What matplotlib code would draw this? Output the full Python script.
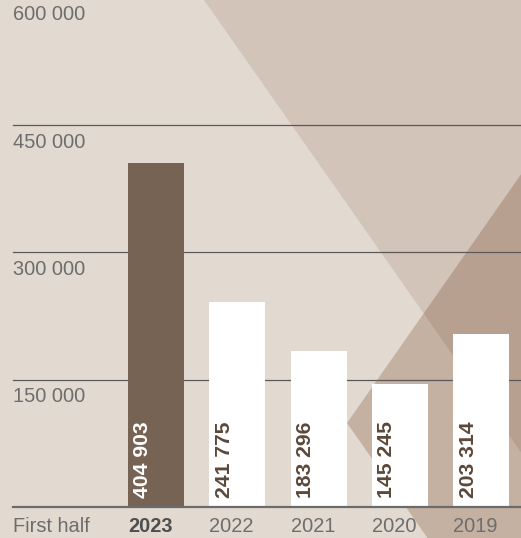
import numpy as np
import matplotlib
matplotlib.use('Agg')
import matplotlib.pyplot as plt
from matplotlib.patches import Polygon

plt.rcParams['font.family'] = ['Liberation Sans', 'DejaVu Sans']

years = ['2023', '2022', '2021', '2020', '2019']
values = [404903, 241775, 183296, 145245, 203314]
value_labels = ['404 903', '241 775', '183 296', '145 245', '203 314']
yticks = [150000, 300000, 450000, 600000]
ytick_labels = ['150 000', '300 000', '450 000', '600 000']
bar_colors = ['#766353', 'white', 'white', 'white', 'white']
label_colors = ['white', '#5b4839', '#5b4839', '#5b4839', '#5b4839']

W, H = 521, 538
fig = plt.figure(figsize=(W / 100, H / 100), dpi=100, facecolor='#e2dad1')

# decorative background triangles (pixel coords from top-left)
def px(pts):
    return [(x / W, 1 - y / H) for x, y in pts]

shade = '#6e3719'
fig.add_artist(Polygon(px([(204, 0), (560, 0), (560, 508)]), closed=True,
                       transform=fig.transFigure, facecolor=shade, alpha=0.135,
                       edgecolor='none', zorder=-2))
fig.add_artist(Polygon(px([(347, 423), (643, 0), (700, 0), (700, 538), (427.5, 538)]),
                       closed=True, transform=fig.transFigure, facecolor=shade,
                       alpha=0.25, edgecolor='none', zorder=-1))

ax = fig.add_axes([0, 0, 1, 1])
ax.patch.set_visible(False)
for s in ax.spines.values():
    s.set_visible(False)
ax.set_xticks([])
ax.set_yticks([])

px_per_x = 81.25
px_per_y = 127.3 / 150000
ax.set_xlim(-156 / px_per_x, (W - 156) / px_per_x)
ax.set_ylim(-(H - 507) / px_per_y, 507 / px_per_y)

x = np.arange(len(years))
ax.bar(x, values, width=56 / px_per_x, color=bar_colors, zorder=3)

x0 = ax.get_xlim()[0]
xl = x0 + 13 / px_per_x
frac = 13 / W
for v, lab in zip(yticks, ytick_labels):
    if v < 600000:
        ax.axhline(v, xmin=frac, xmax=1, color='#5a5a5a', lw=0.9, zorder=2)
    ax.text(xl, v - 17 / px_per_y, lab, ha='left', va='center',
            fontsize=14.4, color='#6d6d6d')
ax.axhline(0, xmin=frac, xmax=1, color='#6b6b6b', lw=1.6, zorder=4)

for i, (lab, c) in enumerate(zip(value_labels, label_colors)):
    ax.text(i - 0.16, 9 / px_per_y, lab, rotation=90, ha='center', va='bottom',
            fontsize=15.2, fontweight='bold', color=c, zorder=5)

yb = -20 / px_per_y
ax.text(xl, yb, 'First half', ha='left', va='center', fontsize=14.4, color='#6d6d6d')
for i, yr in enumerate(years):
    bold = i == 0
    ax.text(i - 28 / px_per_x, yb, yr, ha='left', va='center', fontsize=14.4,
            fontweight='bold' if bold else 'normal',
            color='#4e4e4e' if bold else '#6d6d6d')

fig.savefig('out.png', dpi=100, facecolor=fig.get_facecolor())
